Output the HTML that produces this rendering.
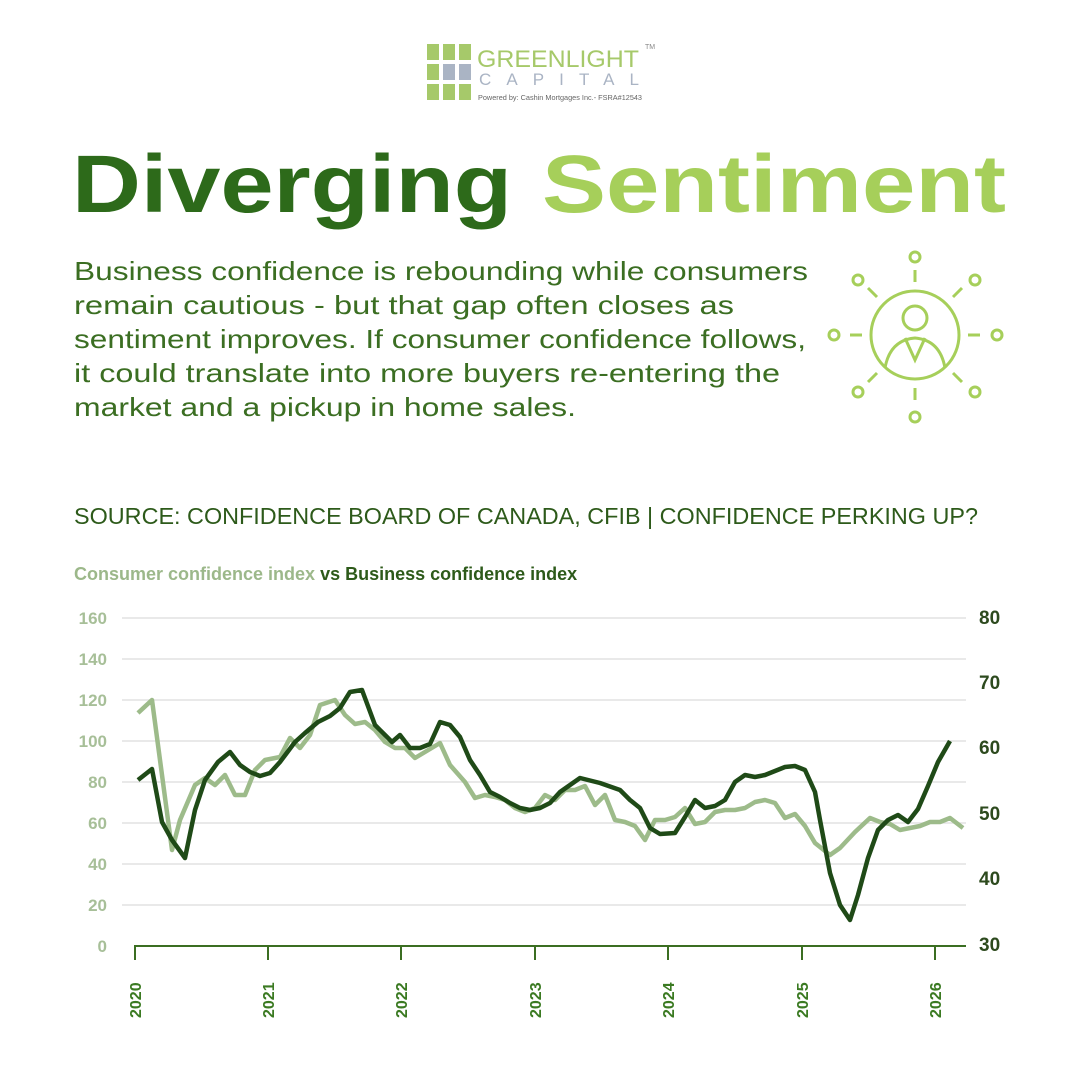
<!DOCTYPE html>
<html><head><meta charset="utf-8"><style>html,body{margin:0;padding:0;background:#fff}svg{display:block}</style></head><body>
<svg width="1080" height="1080" viewBox="0 0 1080 1080" xmlns="http://www.w3.org/2000/svg" font-family="Liberation Sans, sans-serif">
<rect width="1080" height="1080" fill="#fff"/>
<!-- logo -->
<g>
<rect x="427" y="44" width="12" height="16" fill="#a6c96a"/><rect x="443" y="44" width="12" height="16" fill="#a6c96a"/><rect x="459" y="44" width="12" height="16" fill="#a6c96a"/>
<rect x="427" y="64" width="12" height="16" fill="#a6c96a"/><rect x="443" y="64" width="12" height="16" fill="#aab4c4"/><rect x="459" y="64" width="12" height="16" fill="#aab4c4"/>
<rect x="427" y="84" width="12" height="16" fill="#a6c96a"/><rect x="443" y="84" width="12" height="16" fill="#a6c96a"/><rect x="459" y="84" width="12" height="16" fill="#a6c96a"/>
<text x="477" y="67" font-size="24" fill="#a6c96a" textLength="162" lengthAdjust="spacingAndGlyphs">GREENLIGHT</text>
<text x="645" y="49" font-size="7" fill="#888">TM</text>
<text x="479" y="85" font-size="17" fill="#aab4c4" textLength="160" lengthAdjust="spacing">CAPITAL</text>
<text x="478" y="100" font-size="7.5" fill="#666" textLength="164" lengthAdjust="spacingAndGlyphs">Powered by:  Cashin Mortgages Inc.- FSRA#12543</text>
</g>
<!-- title -->
<text x="72" y="212" font-size="82" font-weight="bold" fill="#2d6a1a" textLength="440" lengthAdjust="spacingAndGlyphs">Diverging</text>
<text x="542" y="212" font-size="82" font-weight="bold" fill="#a6cf5a" textLength="464" lengthAdjust="spacingAndGlyphs">Sentiment</text>
<!-- body -->
<g font-size="26" fill="#3b6e22">
<text x="74" y="280" textLength="734" lengthAdjust="spacingAndGlyphs">Business confidence is rebounding while consumers</text>
<text x="74" y="314" textLength="660" lengthAdjust="spacingAndGlyphs">remain cautious - but that gap often closes as</text>
<text x="74" y="348" textLength="732" lengthAdjust="spacingAndGlyphs">sentiment improves. If consumer confidence follows,</text>
<text x="74" y="382" textLength="706" lengthAdjust="spacingAndGlyphs">it could translate into more buyers re-entering the</text>
<text x="74" y="416" textLength="502" lengthAdjust="spacingAndGlyphs">market and a pickup in home sales.</text>
</g>
<!-- icon -->
<g stroke="#a6cf5a" stroke-width="3" fill="none">
<circle cx="915" cy="335" r="44"/>
<circle cx="915" cy="318" r="12"/>
<path d="M885 368 Q890 340 915 338 Q940 340 945 368"/>
<path d="M905 338 L915 360 L925 338"/>
<line x1="915" y1="270" x2="915" y2="282"/><line x1="915" y1="388" x2="915" y2="400"/>
<line x1="850" y1="335" x2="862" y2="335"/><line x1="968" y1="335" x2="980" y2="335"/>
<line x1="868" y1="288" x2="877" y2="297"/><line x1="953" y1="297" x2="962" y2="288"/>
<line x1="868" y1="382" x2="877" y2="373"/><line x1="953" y1="373" x2="962" y2="382"/>
<circle cx="915" cy="257" r="5"/><circle cx="915" cy="417" r="5"/>
<circle cx="834" cy="335" r="5"/><circle cx="997" cy="335" r="5"/>
<circle cx="858" cy="280" r="5"/><circle cx="975" cy="280" r="5"/>
<circle cx="858" cy="392" r="5"/><circle cx="975" cy="392" r="5"/>
</g>
<!-- source -->
<text x="74" y="524" font-size="23" fill="#2d5a1a" textLength="904" lengthAdjust="spacingAndGlyphs">SOURCE: CONFIDENCE BOARD OF CANADA, CFIB | CONFIDENCE PERKING UP?</text>
<text x="74" y="580" font-size="18" font-weight="bold"><tspan fill="#9cb88a">Consumer confidence index</tspan><tspan fill="#2d5a1a"> vs Business confidence index</tspan></text>
<!-- grid -->
<g stroke="#e2e2e2" stroke-width="1.5">
<line x1="122" y1="618" x2="966" y2="618"/><line x1="122" y1="659" x2="966" y2="659"/><line x1="122" y1="700" x2="966" y2="700"/><line x1="122" y1="741" x2="966" y2="741"/><line x1="122" y1="782" x2="966" y2="782"/><line x1="122" y1="823" x2="966" y2="823"/><line x1="122" y1="864" x2="966" y2="864"/><line x1="122" y1="905" x2="966" y2="905"/>
</g>
<g stroke="#3b6e22" stroke-width="2">
<line x1="134" y1="946" x2="966" y2="946"/>
<line x1="135" y1="946" x2="135" y2="960"/><line x1="268" y1="946" x2="268" y2="960"/><line x1="401" y1="946" x2="401" y2="960"/><line x1="535" y1="946" x2="535" y2="960"/><line x1="668" y1="946" x2="668" y2="960"/><line x1="802" y1="946" x2="802" y2="960"/><line x1="935" y1="946" x2="935" y2="960"/>
</g>
<g font-size="17" font-weight="bold" fill="#a7bf98" text-anchor="end">
<text x="107" y="624">160</text><text x="107" y="665">140</text><text x="107" y="706">120</text><text x="107" y="747">100</text><text x="107" y="788">80</text><text x="107" y="829">60</text><text x="107" y="870">40</text><text x="107" y="911">20</text><text x="107" y="952">0</text>
</g>
<g font-size="19" font-weight="bold" fill="#2d4a1e">
<text x="979" y="624">80</text><text x="979" y="689">70</text><text x="979" y="754">60</text><text x="979" y="820">50</text><text x="979" y="885">40</text><text x="979" y="951">30</text>
</g>
<g font-size="16" font-weight="bold" fill="#3b7a22">
<text transform="translate(141,1018) rotate(-90)">2020</text>
<text transform="translate(274,1018) rotate(-90)">2021</text>
<text transform="translate(407,1018) rotate(-90)">2022</text>
<text transform="translate(541,1018) rotate(-90)">2023</text>
<text transform="translate(674,1018) rotate(-90)">2024</text>
<text transform="translate(808,1018) rotate(-90)">2025</text>
<text transform="translate(941,1018) rotate(-90)">2026</text>
</g>
<polyline fill="none" stroke="#9dbb8a" stroke-width="4.5" stroke-linejoin="round" points="138,713 152,700 172,850 180,820 195,785 205,778 215,785 225,775 235,795 245,795 255,770 265,760 280,757 290,738 300,748 310,735 320,705 335,700 345,715 355,724 365,722 375,730 385,742 395,748 405,748 415,758 425,752 440,743 450,765 465,782 475,798 485,795 495,797 505,800 515,808 525,812 535,808 545,795 555,800 565,790 575,790 585,786 595,805 605,795 615,820 625,822 635,826 645,840 655,820 665,820 675,817 685,808 695,824 705,822 715,812 725,810 735,810 745,808 755,802 765,800 775,803 785,818 795,814 805,826 815,843 830,855 840,848 855,832 870,818 880,822 890,824 900,830 910,828 920,826 930,822 940,822 950,818 963,828"/>
<polyline fill="none" stroke="#1f4a17" stroke-width="4.5" stroke-linejoin="round" points="138,780 152,769 162,822 172,840 185,858 195,810 205,780 218,762 230,752 240,765 250,772 260,776 270,773 280,762 295,742 305,733 318,722 330,716 340,708 350,692 362,690 375,725 385,735 392,742 400,735 410,748 420,748 430,744 440,722 450,725 460,737 470,760 480,775 490,792 500,797 510,803 520,808 530,810 540,808 550,803 560,792 580,778 600,783 620,790 630,800 640,808 650,828 660,834 675,833 685,817 695,800 705,808 715,806 725,800 735,782 745,775 755,777 765,775 775,771 785,767 795,766 805,770 815,792 820,820 830,873 840,905 850,920 858,895 868,858 878,830 888,820 898,815 908,822 918,809 928,786 938,762 950,741"/>
</svg>
</body></html>
